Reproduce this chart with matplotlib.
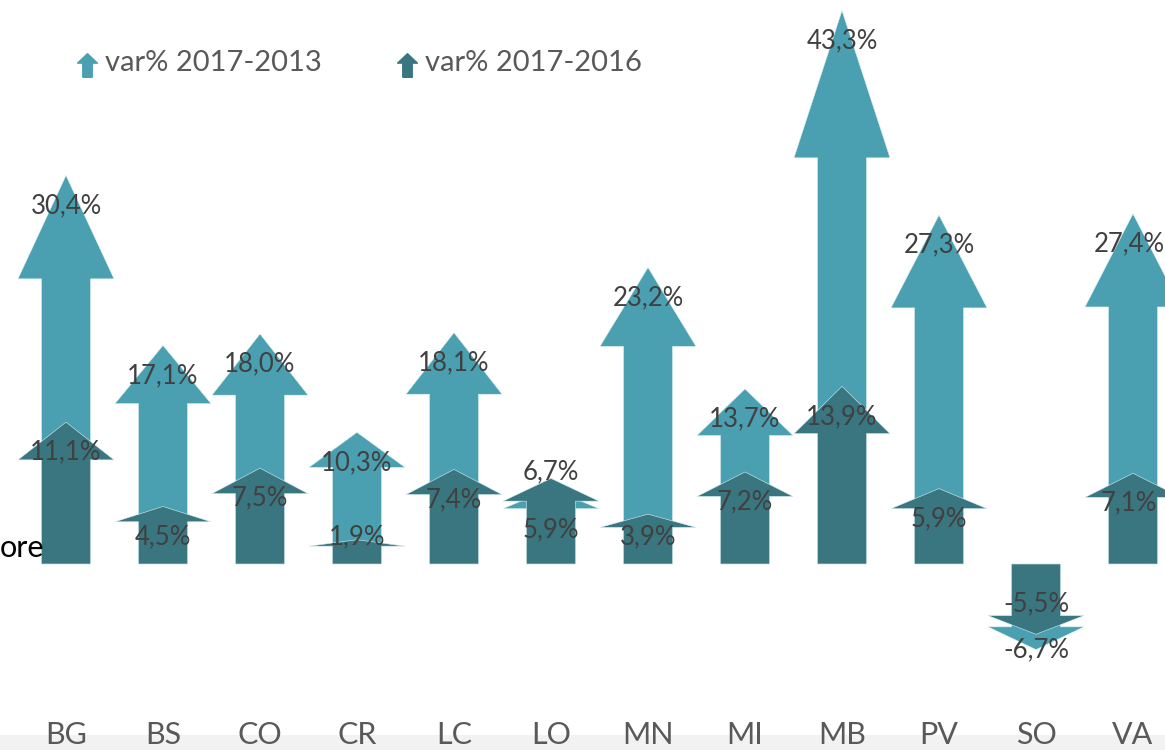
import matplotlib
matplotlib.use("Agg")
import matplotlib.pyplot as plt
from matplotlib.patches import Polygon, Rectangle
from matplotlib.path import Path
from matplotlib.lines import Line2D

# ---- data ----
categories = ["BG", "BS", "CO", "CR", "LC", "LO", "MN", "MI", "MB", "PV", "SO", "VA"]
var_2017_2013 = [30.4, 17.1, 18.0, 10.3, 18.1, 5.9, 23.2, 13.7, 43.3, 27.3, -6.7, 27.4]
var_2017_2016 = [11.1, 4.5, 7.5, 1.9, 7.4, 6.7, 3.9, 7.2, 13.9, 5.9, -5.5, 7.1]
series_names = ["var% 2017-2013", "var% 2017-2016"]

# ---- style ----
LIGHT = "#4aa0b0"
DARK = "#3a7680"
TEXT = "#404040"
FONT = ["Lato", "DejaVu Sans"]

W, H = 1165, 750
fig = plt.figure(figsize=(W / 100, H / 100), dpi=100)

# calibration (pixels)
px_per_unit_y = 12.78
px_per_unit_x = 97.0
x0_px = 66.0
base_px = 564.0
ax_bottom_px = 720.0

ax = fig.add_axes([0, (H - ax_bottom_px) / H, 1, ax_bottom_px / H])
ax.set_xlim(-x0_px / px_per_unit_x, (W - x0_px) / px_per_unit_x)
ax.set_ylim(-(ax_bottom_px - base_px) / px_per_unit_y, base_px / px_per_unit_y)
for s in ax.spines.values():
    s.set_visible(False)
ax.set_yticks([])
ax.set_xticks(range(len(categories)))
ax.set_xticklabels(categories, fontsize=22, color="#595959", family=FONT, fontweight="normal")
ax.tick_params(axis="x", length=0, pad=1)

shaft_w = 0.505
head_w = 0.99
head_frac = 0.266


def arrow(x, v, color):
    hl = head_frac * abs(v)
    sgn = 1 if v >= 0 else -1
    hb = v - sgn * hl
    pts = [(x - shaft_w / 2, 0), (x - shaft_w / 2, hb), (x - head_w / 2, hb), (x, v),
           (x + head_w / 2, hb), (x + shaft_w / 2, hb), (x + shaft_w / 2, 0)]
    ax.add_patch(Polygon(pts, closed=True, facecolor=color, edgecolor="#d8eef2",
                         linewidth=0.4, zorder=2))


for i, v in enumerate(var_2017_2013):
    arrow(i, v, LIGHT)
for i, v in enumerate(var_2017_2016):
    arrow(i, v, DARK)

# labels
off = 30 / px_per_unit_y
clamp = (base_px - 537) / px_per_unit_y
nudge = {(5, 0): 2.66, (5, 1): 7.2, (10, 0): -6.75}
last = len(categories) - 1


def fmt(v):
    return f"{v:.1f}%".replace(".", ",")


for si, vals in enumerate([var_2017_2013, var_2017_2016]):
    for i, v in enumerate(vals):
        if v >= 0:
            y = max(v - off, clamp)
        else:
            y = v + off
        y = nudge.get((i, si), y)
        xx = i - 0.04 if i == last else i
        ax.text(xx, y, fmt(v), ha="center", va="center", fontsize=18.5, color=TEXT,
                family=FONT, zorder=5)

# partially visible axis title at left edge
fig.text(0 / W, 1 - 548 / H, "ore", ha="left", va="center", fontsize=22,
         color="black", family=FONT, fontweight="normal")

# grey band at the bottom
fig.add_artist(Rectangle((0, 0), 1, (H - 735) / H, transform=fig.transFigure,
                         facecolor="#f2f2f2", edgecolor="none", zorder=-1))

# legend
arrow_path = Path([(-0.2, -0.5), (-0.2, 0.1), (-0.42, 0.1), (0, 0.5), (0.42, 0.1),
                   (0.2, 0.1), (0.2, -0.5), (-0.2, -0.5)])
for name, col, xi in zip(series_names, [LIGHT, DARK], [87, 407]):
    fig.add_artist(Line2D([xi / W], [1 - 65 / H], transform=fig.transFigure, marker=arrow_path,
                          markersize=17, color=col, linestyle="none"))
    fig.text((xi + 18) / W, 1 - 63 / H, name, ha="left", va="center", fontsize=21,
             color="#595959", family=FONT, fontweight="normal")

fig.savefig("out.png", dpi=100)
